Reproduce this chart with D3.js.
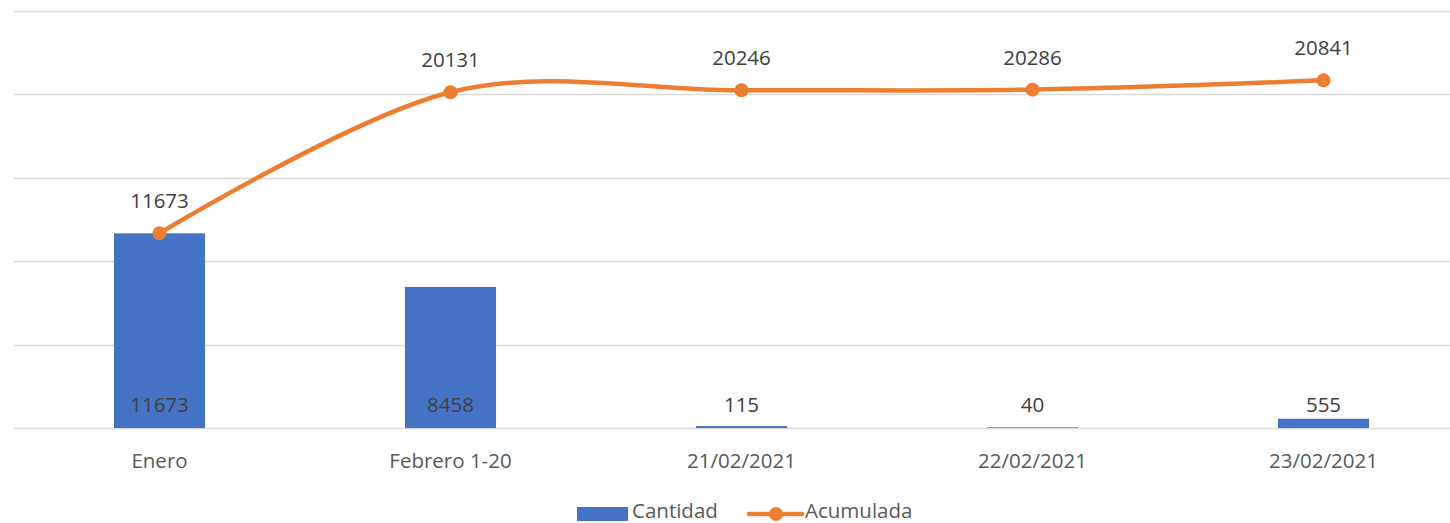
<!DOCTYPE html>
<html><head><meta charset="utf-8">
<script src="https://cdn.jsdelivr.net/npm/d3@7"></script>
<style>body{margin:0;background:#fff}svg{display:block}text{font-family:"Open Sans",sans-serif}</style>
</head><body><svg id="c" width="1450" height="523"></svg>
<script>
const categories = ["Enero","Febrero 1-20","21/02/2021","22/02/2021","23/02/2021"];
const cantidad = [11673, 8458, 115, 40, 555];
const acumulada = [11673, 20131, 20246, 20286, 20841];
const yTicks = [0, 5000, 10000, 15000, 20000, 25000];

(function(){
const svg = d3.select("#c");
const pLeft = 14, pRight = 1469, pTop = 11, pBottom = 428;
const fs = 20.5;
const x = d3.scaleBand().domain(categories).range([pLeft, pRight]).paddingInner(0.687).paddingOuter(0.3435);
const xc = d => x(d) + x.bandwidth()/2;
const y = d3.scaleLinear().domain([0, 25000]).range([pBottom, pTop]);

svg.append("g").selectAll("line").data(yTicks).join("line")
  .attr("x1", pLeft).attr("x2", pRight)
  .attr("y1", d => Math.round(y(d)) + 0.5).attr("y2", d => Math.round(y(d)) + 0.5)
  .attr("stroke", "#d9d9d9").attr("stroke-width", 1.5);

svg.append("g").selectAll("rect").data(categories).join("rect")
  .attr("x", d => x(d)).attr("width", x.bandwidth())
  .attr("y", (d,i) => y(cantidad[i])).attr("height", (d,i) => pBottom - y(cantidad[i]))
  .attr("fill", "#4472c4");

const xa = svg.append("g").attr("transform", `translate(0,${pBottom})`)
  .call(d3.axisBottom(x).tickSize(0).tickPadding(0));
xa.select(".domain").remove();
xa.selectAll("text").attr("font-size", fs).attr("fill", "#595959").attr("dy", null).attr("y", 40)
  .style("font-family", "'Open Sans',sans-serif");

svg.append("g").selectAll("text").data(categories).join("text")
  .attr("x", d => xc(d)).attr("y", pBottom - 16)
  .attr("text-anchor", "middle").attr("font-size", fs).attr("fill", "#404040")
  .text((d,i) => cantidad[i]);

const line = d3.line().x((d,i) => xc(categories[i])).y(d => y(d)).curve(d3.curveCardinal.tension(0));
svg.append("path").datum(acumulada).attr("d", line)
  .attr("fill", "none").attr("stroke", "#ed7d31").attr("stroke-width", 4.5).attr("stroke-linecap", "round");
svg.append("g").selectAll("circle").data(acumulada).join("circle")
  .attr("cx", (d,i) => xc(categories[i])).attr("cy", d => y(d)).attr("r", 7).attr("fill", "#ed7d31");
svg.append("g").selectAll("text").data(acumulada).join("text")
  .attr("x", (d,i) => xc(categories[i])).attr("y", d => y(d) - 25)
  .attr("text-anchor", "middle").attr("font-size", fs).attr("fill", "#404040")
  .text(d => d);

const lg = svg.append("g");
lg.append("rect").attr("x", 577).attr("y", 507).attr("width", 51).attr("height", 14).attr("fill", "#4472c4");
lg.append("text").attr("x", 632).attr("y", 518).attr("font-size", fs).attr("fill", "#595959").text("Cantidad");
lg.append("line").attr("x1", 749).attr("x2", 802).attr("y1", 514).attr("y2", 514)
  .attr("stroke", "#ed7d31").attr("stroke-width", 4.5).attr("stroke-linecap", "round");
lg.append("circle").attr("cx", 776).attr("cy", 514).attr("r", 7).attr("fill", "#ed7d31");
lg.append("text").attr("x", 805).attr("y", 518).attr("font-size", fs).attr("fill", "#595959").text("Acumulada");
})();
</script></body></html>
